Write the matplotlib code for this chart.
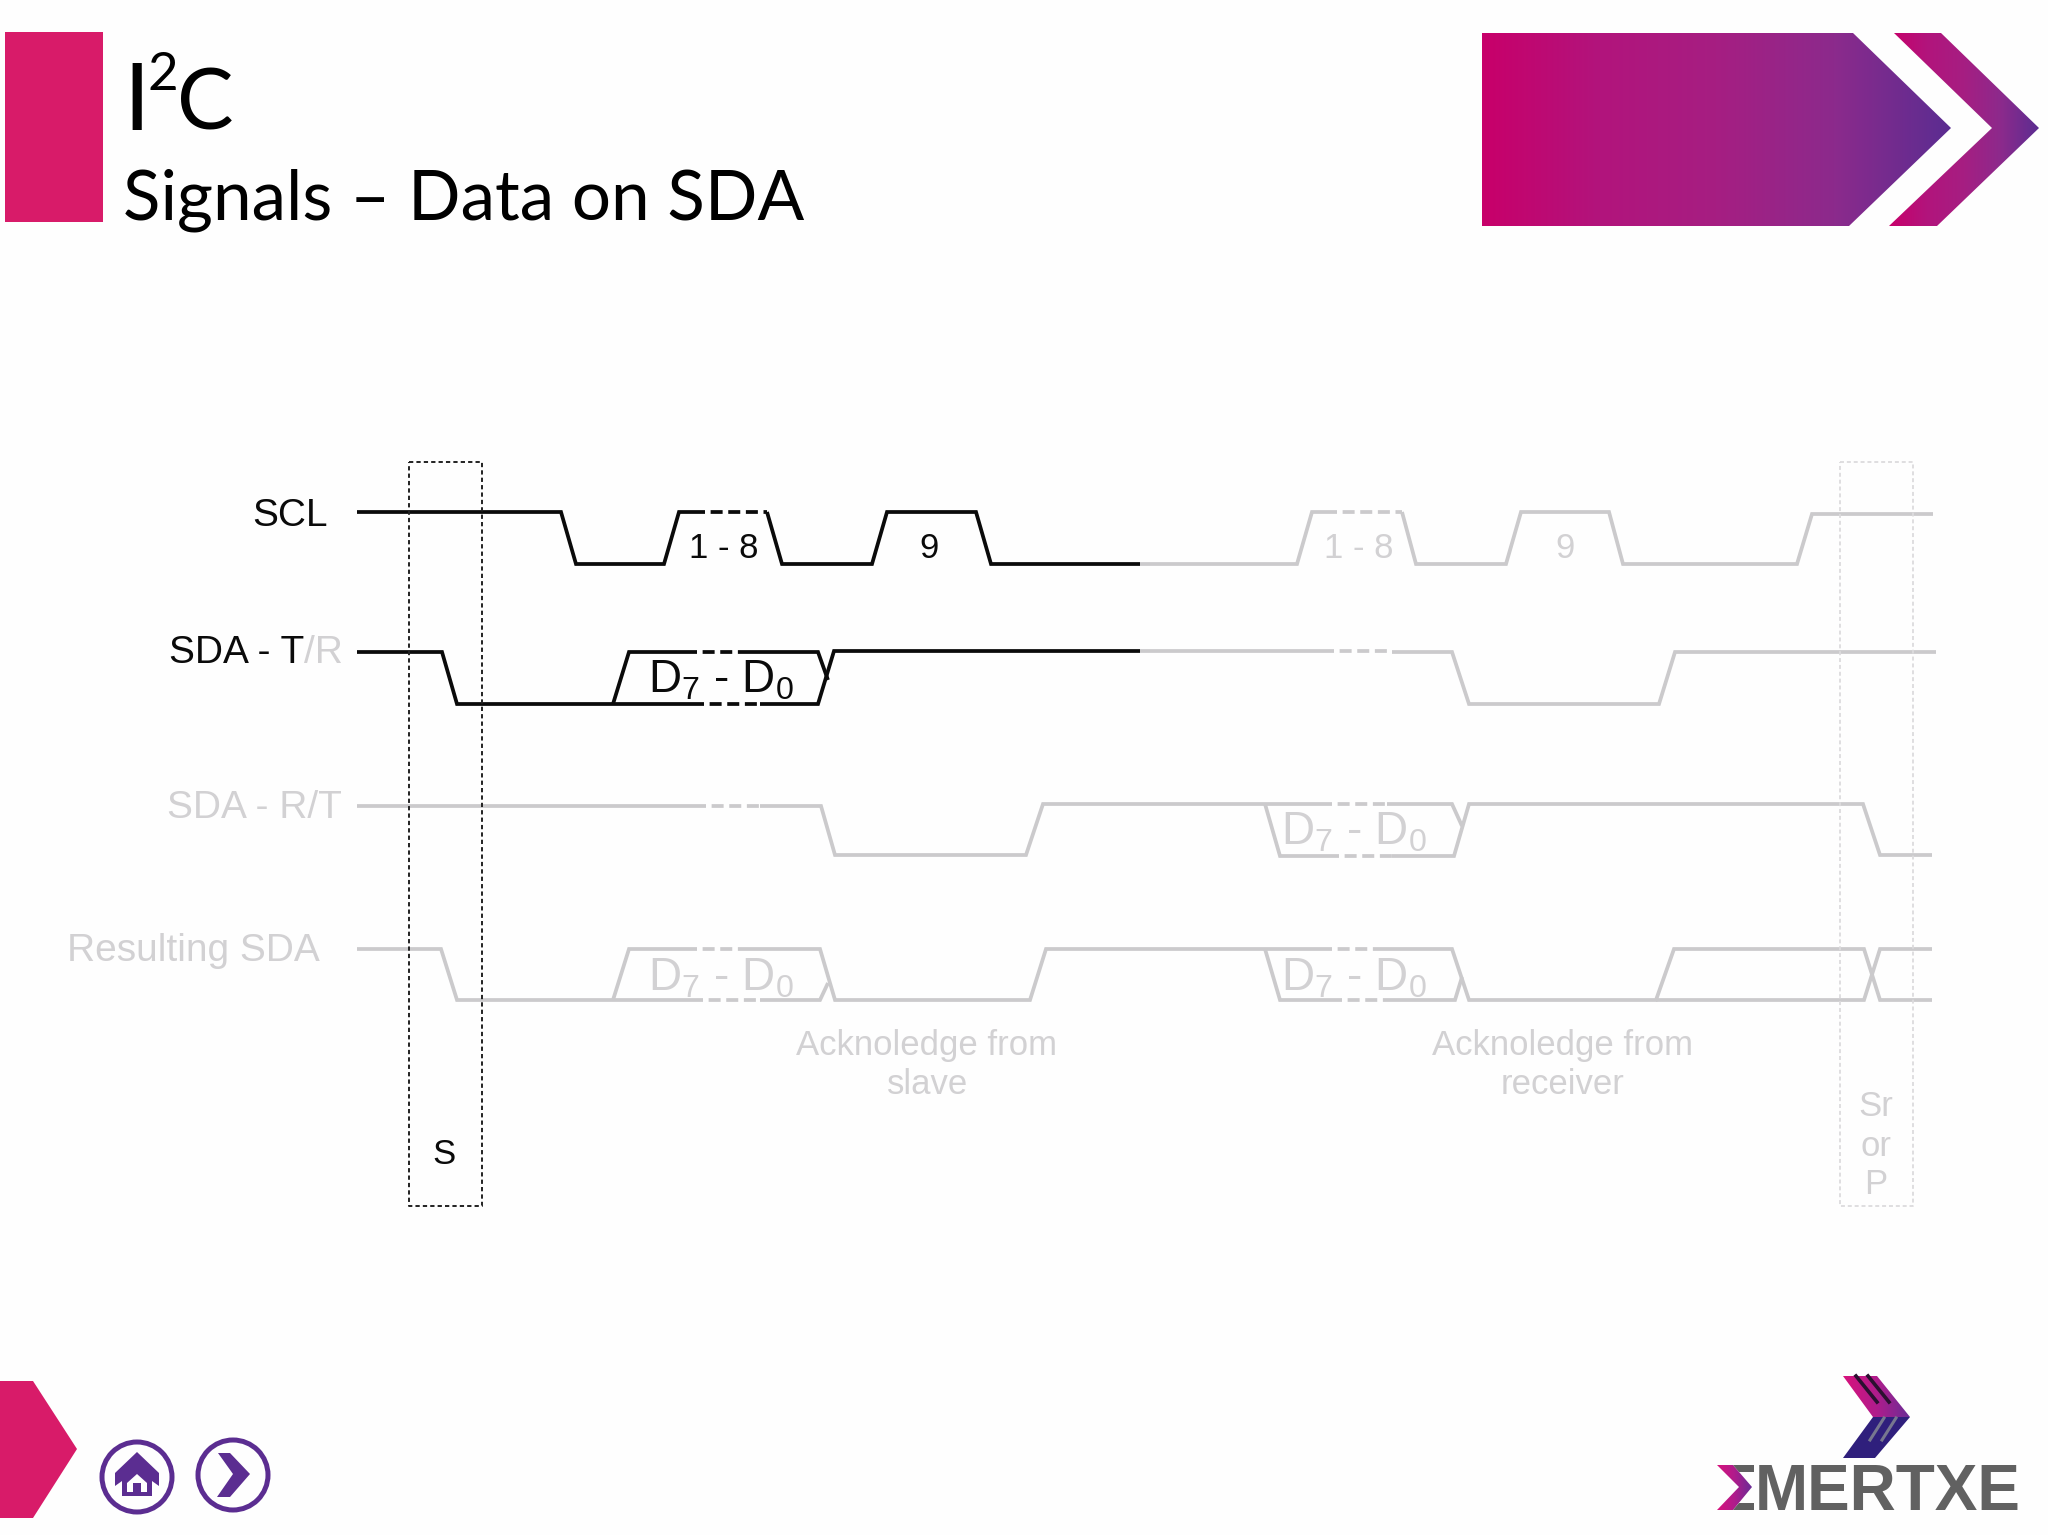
import numpy as np
import matplotlib
matplotlib.use("Agg")
import matplotlib.pyplot as plt
from matplotlib.colors import LinearSegmentedColormap
from matplotlib.patches import Polygon, Circle

plt.rcParams['font.family'] = ['Liberation Sans', 'DejaVu Sans']
plt.rcParams['mathtext.fontset'] = 'custom'
plt.rcParams['mathtext.rm'] = 'Liberation Sans'
plt.rcParams['mathtext.it'] = 'Liberation Sans'

BLACK = '#0a0a0a'
GRAY = '#cbcacc'
TXT_GRAY = '#d2d1d3'

# ---- waveforms: (x list, level list) ----
scl_black = ([357, 561, 576, 664, 679, 693], [512, 512, 564, 564, 512, 512])
scl_black_b = ([767, 782, 872, 887, 976, 991, 1140], [512, 564, 564, 512, 512, 564, 564])
scl_black_d = ([693, 767], [512, 512])
scl_gray = ([1140, 1297, 1312, 1325], [564, 564, 512, 512])
scl_gray_b = ([1402, 1416, 1506, 1521, 1609, 1623, 1797, 1812, 1933], [512, 564, 564, 512, 512, 564, 564, 514, 514])
scl_gray_d = ([1325, 1402], [512, 512])

sdat_black = ([357, 442, 457, 692], [652, 652, 704, 704])
sdat_black_b = ([760, 818, 834, 1140], [704, 704, 651, 651])
sdat_top_a = ([613, 629, 685], [704, 652, 652])
sdat_top_b = ([747, 818, 828], [652, 652, 680])
sdat_dash = ([[692, 760], [685, 747]], [[704, 704], [652, 652]])
sdat_gray = ([1140, 1322], [651, 651])
sdat_gray_b = ([1392, 1452, 1469, 1659, 1675, 1936], [652, 652, 704, 704, 652, 652])
sdat_gray_d = ([1322, 1392], [651, 651])

sdar_a = ([357, 694], [806, 806])
sdar_b = ([760, 821, 835, 1026, 1043, 1265], [806, 806, 855, 855, 804, 804])
sdar_d = ([694, 760], [806, 806])
sdar_c = ([1265, 1280, 1327], [804, 856, 856])
sdar_e = ([1392, 1454, 1469, 1863, 1880, 1932], [856, 856, 804, 804, 855, 855])
sdar_f = ([1265, 1320], [804, 804])
sdar_g = ([1387, 1452, 1462], [804, 804, 826])
sdar_h = ([[1327, 1392], [1320, 1387]], [[856, 856], [804, 804]])

res_a = ([357, 441, 457, 691], [949, 949, 1000, 1000])
res_b = ([613, 629, 685], [1000, 949, 949])
res_c = ([749, 820, 835, 1030, 1046, 1265], [949, 949, 1000, 1000, 949, 949])
res_d = ([760, 820, 828], [1000, 1000, 983])
res_e = ([1265, 1280, 1330], [949, 1000, 1000])
res_f = ([1265, 1320], [949, 949])
res_g = ([1382, 1452, 1469, 1656, 1674, 1864, 1880, 1932], [949, 949, 1000, 1000, 949, 949, 1000, 1000])
res_h = ([1392, 1455, 1462], [1000, 1000, 977])
res_i = ([1656, 1864, 1880, 1932], [1000, 1000, 949, 949])
res_dash = ([[691, 760], [685, 749], [1330, 1392], [1320, 1382]],
            [[1000, 1000], [949, 949], [1000, 1000], [949, 949]])

box_s_x = [409, 482, 482, 409, 409]
box_s_y = [462, 462, 1206, 1206, 462]
box_p_x = [1840, 1913, 1913, 1840, 1840]
box_p_y = [462, 462, 1206, 1206, 462]

fig = plt.figure(figsize=(20.48, 15.35), dpi=100, facecolor='#fefefe')
ax = fig.add_axes([0, 0, 1, 1])
ax.set_xlim(0, 2048)
ax.set_ylim(1535, 0)
ax.axis('off')

LW = 2.7
def wave(seg, color, lw=LW, **kw):
    ax.plot(seg[0], seg[1], color=color, lw=lw, solid_joinstyle='miter',
            solid_capstyle='butt', **kw)

def dash(seg, color, lw=LW):
    ax.plot(seg[0], seg[1], color=color, lw=lw, ls=(0, (3.2, 1.5)), dash_capstyle='butt')

# gray below black
for s in [scl_gray, scl_gray_b, sdat_gray, sdat_gray_b, sdar_a, sdar_b, sdar_c, sdar_e, sdar_f, sdar_g,
          res_a, res_b, res_c, res_d, res_e, res_f, res_g, res_h, res_i]:
    wave(s, GRAY)
for s in [scl_gray_d, sdat_gray_d, sdar_d]:
    dash(s, GRAY)
for xs, ys in zip(*sdar_h):
    dash((xs, ys), GRAY)
for xs, ys in zip(*res_dash):
    dash((xs, ys), GRAY)

for s in [scl_black, scl_black_b, sdat_black, sdat_black_b, sdat_top_a, sdat_top_b]:
    wave(s, BLACK)
dash(scl_black_d, BLACK)
for xs, ys in zip(*sdat_dash):
    dash((xs, ys), BLACK)

ax.plot(box_s_x, box_s_y, color='#222222', lw=1.4, ls=(0, (2.2, 1.6)))
ax.plot(box_p_x, box_p_y, color='#dcdbdd', lw=1.3, ls=(0, (2.2, 1.6)))

FS = 28
FA = 25
def T(x, y, s, c=BLACK, fs=FS, ha='center', **kw):
    return ax.text(x, y, s, color=c, fontsize=fs, ha=ha, va='center', **kw)

T(328, 516, 'SCL', ha='right')
T(304, 653, 'SDA - T', ha='right')
T(304, 653, '/R', c=TXT_GRAY, ha='left')
T(342, 808, 'SDA - R/T', c=TXT_GRAY, ha='right')
T(320, 951, 'Resulting SDA', c=TXT_GRAY, ha='right')

T(724, 548, '1 - 8', fs=FA)
T(929, 548, '9', fs=FA)
T(1359, 548, '1 - 8', c=TXT_GRAY, fs=FA)
T(1565, 548, '9', c=TXT_GRAY, fs=FA)
D = r'$\mathrm{D_7}$ - $\mathrm{D_0}$'
T(721, 680, D, fs=33)
T(1354, 833, D, c=TXT_GRAY, fs=33)
T(721, 979, D, c=TXT_GRAY, fs=33)
T(1354, 979, D, c=TXT_GRAY, fs=33)
T(927, 1046, 'Acknoledge from', c=TXT_GRAY, fs=FA)
T(928, 1085, 'slave', c=TXT_GRAY, fs=FA)
T(1563, 1046, 'Acknoledge from', c=TXT_GRAY, fs=FA)
T(1563, 1085, 'receiver', c=TXT_GRAY, fs=FA)
T(444, 1155, 'S', fs=FA)
T(1876, 1107, 'Sr', c=TXT_GRAY, fs=FA)
T(1876, 1146, 'or', c=TXT_GRAY, fs=FA)
T(1876, 1184, 'P', c=TXT_GRAY, fs=FA)

# ---- header ----
PINK = '#d81b69'
PURPLE = '#5b2d91'
ax.add_patch(Polygon([(5, 32), (103, 32), (103, 222), (5, 222)], fc=PINK, ec='none'))
TF = ['Lato', 'DejaVu Sans']
ax.text(123, 130, 'I', fontsize=68, family=TF, color='black', va='baseline')
ax.text(148, 90, '2', fontsize=38, family=TF, color='black', va='baseline')
ax.text(177, 130, 'C', fontsize=61, family=TF, color='black', va='baseline')
ax.text(123, 219, 'Signals – Data on SDA', fontsize=49.8, family=TF, color='black', va='baseline')

grad = LinearSegmentedColormap.from_list('g', ['#c8006a', '#b2147c', '#a61e82', '#8c2a8c', '#5b2d91'])
def gradient_poly(pts, x0, x1, y0, y1, cmap=grad):
    im = ax.imshow(np.linspace(0, 1, 256).reshape(1, -1), extent=[x0, x1, y1, y0], cmap=cmap,
                   aspect='auto', zorder=2)
    p = Polygon(pts, closed=True, fc='none', ec='none', transform=ax.transData)
    ax.add_patch(p)
    im.set_clip_path(p)

gradient_poly([(1482, 33), (1853, 33), (1951, 128), (1849, 226), (1482, 226)], 1482, 1951, 33, 226)
gradient_poly([(1894, 33), (1941, 33), (2039, 128), (1937, 226), (1889, 226), (1992, 128)], 1889, 2039, 33, 226)
ax.set_xlim(0, 2048)
ax.set_ylim(1535, 0)

# ---- footer ----
ax.add_patch(Polygon([(0, 1381), (33, 1381), (77, 1449), (33, 1518), (0, 1518)], fc=PINK, ec='none'))
ax.add_patch(Circle((137, 1477), 35, fc='none', ec=PURPLE, lw=3.6))
ax.add_patch(Circle((233, 1475), 35, fc='none', ec=PURPLE, lw=3.6))
ax.add_patch(Polygon([(137, 1452), (159, 1473), (159, 1486), (152, 1481), (152, 1496), (122, 1496),
                      (122, 1481), (115, 1486), (115, 1473)], fc=PURPLE, ec='none'))
ax.add_patch(Polygon([(137, 1474), (147, 1483), (147, 1492), (141, 1492), (141, 1483), (133, 1483),
                      (133, 1492), (127, 1492), (127, 1483)], fc='#fefefe', ec='none'))
ax.add_patch(Polygon([(218, 1453), (230, 1453), (250, 1474), (230, 1497), (217, 1497), (233, 1474)],
                     fc=PURPLE, ec='none'))

# ---- logo ----
grad2 = LinearSegmentedColormap.from_list('g2', ['#d8127c', '#b01c8c', '#6a2d96'])
gradient_poly([(1843, 1376), (1877, 1376), (1910, 1417), (1873, 1417)], 1843, 1910, 1376, 1417, grad2)
ax.add_patch(Polygon([(1873, 1417), (1910, 1417), (1875, 1458), (1843, 1458)], fc='#2f1f7c', ec='none', zorder=2))
for x0, x1 in [(1856, 1877), (1868, 1889)]:
    ax.plot([x0, x1], [1376, 1402], color='#2a1030', lw=2.6, zorder=3)
for x0, x1 in [(1884, 1870), (1896, 1882)]:
    ax.plot([x0, x1], [1418, 1440], color='#77778f', lw=2.2, zorder=3)
gradient_poly([(1717, 1465), (1733, 1465), (1752, 1487), (1733, 1510), (1717, 1510), (1739, 1487)],
              1717, 1752, 1465, 1510, grad2)
ax.add_patch(Polygon([(1733, 1465), (1754, 1465), (1754, 1472), (1739, 1472)], fc='#606060', ec='none', zorder=2))
ax.add_patch(Polygon([(1733, 1510), (1754, 1510), (1754, 1503), (1739, 1503)], fc='#606060', ec='none', zorder=2))
ax.text(1755, 1510, 'MERTXE', fontsize=46, fontweight='bold', color='#616161', ha='left', va='baseline',
        family='Liberation Sans')

fig.savefig('out.png', dpi=100, facecolor=fig.get_facecolor())
